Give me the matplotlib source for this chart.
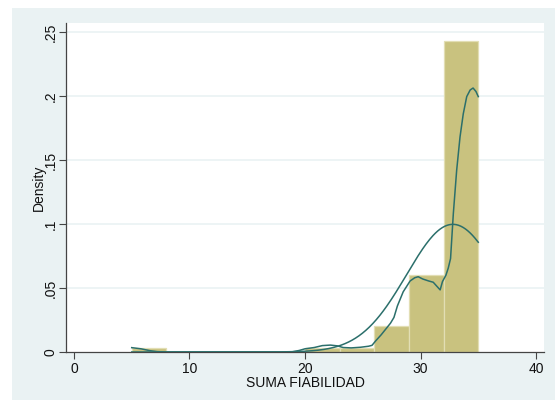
import numpy as np
import matplotlib
matplotlib.use('Agg')
import matplotlib.pyplot as plt
from matplotlib.patches import Rectangle

plt.rcParams['font.family'] = ['Liberation Sans', 'DejaVu Sans']

# Histograma (ancho de clase 3, densidad)
bin_edges = [5, 8, 11, 14, 17, 20, 23, 26, 29, 32, 35]
bin_density = [0.0033, 0, 0, 0, 0, 0.0033, 0.0033, 0.020, 0.060, 0.243]

# Densidad kernel
kx = [5.0, 5.8, 6.6, 7.2, 8.0, 12.0, 16.0, 18.8, 19.5, 20.0, 20.8, 21.5, 22.2, 22.8,
      23.3, 24.0, 24.8, 25.5, 25.8, 26.1, 26.6, 27.0, 27.4, 27.7, 28.0, 28.5,
      29.1, 29.5, 29.8, 30.2, 30.7, 31.1, 31.5, 31.7, 31.9, 32.2, 32.4, 32.6,
      32.84, 33.13, 33.42, 33.7, 34.0, 34.3, 34.55, 34.8, 35.0]
ky = [0.0034, 0.0025, 0.001, 0.0003, 0.0, 0.0, 0.0, 0.0, 0.0012, 0.0025, 0.0035, 0.005,
      0.0054, 0.0048, 0.0035, 0.0032, 0.0037, 0.0045, 0.0052, 0.0085, 0.0135, 0.018,
      0.0225, 0.027, 0.036, 0.047, 0.0555, 0.058, 0.0588, 0.057, 0.0555, 0.0545,
      0.0505, 0.0485, 0.055, 0.060, 0.0655, 0.073, 0.108, 0.142, 0.168, 0.186,
      0.1995, 0.2047, 0.2062, 0.2035, 0.1995]

# Curva normal (media y desviacion)
media = 32.8
desv = 4.0

fig = plt.figure(figsize=(5.55, 4.0), dpi=100)
fig.patch.set_facecolor('white')
fondo = Rectangle((12 / 555, 0), 1 - 12 / 555, 392 / 400,
                  transform=fig.transFigure, facecolor='#EAF2F3',
                  edgecolor='none', zorder=-10)
fig.patches.append(fondo)

ax = fig.add_axes([66 / 555, 48 / 400, 478 / 555, 329 / 400])
ax.set_zorder(1)
ax.set_facecolor('white')

widths = np.diff(bin_edges)
ax.bar(bin_edges[:-1], bin_density, width=widths, align='edge',
       color='#C9C27F', edgecolor='#E2DEB4', linewidth=0.9, zorder=2)

ax.plot(kx, ky, color='#2B6F6B', linewidth=1.1, zorder=3)

xn = np.linspace(5, 35, 300)
yn = np.exp(-0.5 * ((xn - media) / desv) ** 2) / (desv * np.sqrt(2 * np.pi))
ax.plot(xn, yn, color='#2B6F6B', linewidth=1.1, zorder=3)

ax.set_xlim(-0.69, 40.69)
ax.set_ylim(0, 0.257)

yticks = [0, 0.05, 0.1, 0.15, 0.2, 0.25]
ytick_labels = ['0', '.05', '.1', '.15', '.2', '.25']
xticks = [0, 10, 20, 30, 40]
ax.set_yticks(yticks)
ax.set_yticklabels(ytick_labels, rotation=90, va='center')
ax.set_xticks(xticks)
ax.set_xticklabels([str(t) for t in xticks])

for y in yticks[1:]:
    ax.axhline(y, color='#EAF2F3', linewidth=1.2, zorder=1)

for s in ['top', 'right']:
    ax.spines[s].set_visible(False)
for s in ['left', 'bottom']:
    ax.spines[s].set_color('#444444')
    ax.spines[s].set_linewidth(0.9)

ax.tick_params(axis='both', direction='out', length=5, width=0.8, color='#444444',
               labelsize=10, labelcolor='#111111')
ax.tick_params(axis='x', pad=2)
ax.tick_params(axis='y', pad=1)

ax.set_xlabel('SUMA FIABILIDAD', fontsize=10, labelpad=0, color='#111111')
ax.set_ylabel('Density', fontsize=10, color='#111111')
ax.yaxis.set_label_coords(-0.043, 0.5)

fig.savefig('out.png', dpi=100, facecolor=fig.get_facecolor())
